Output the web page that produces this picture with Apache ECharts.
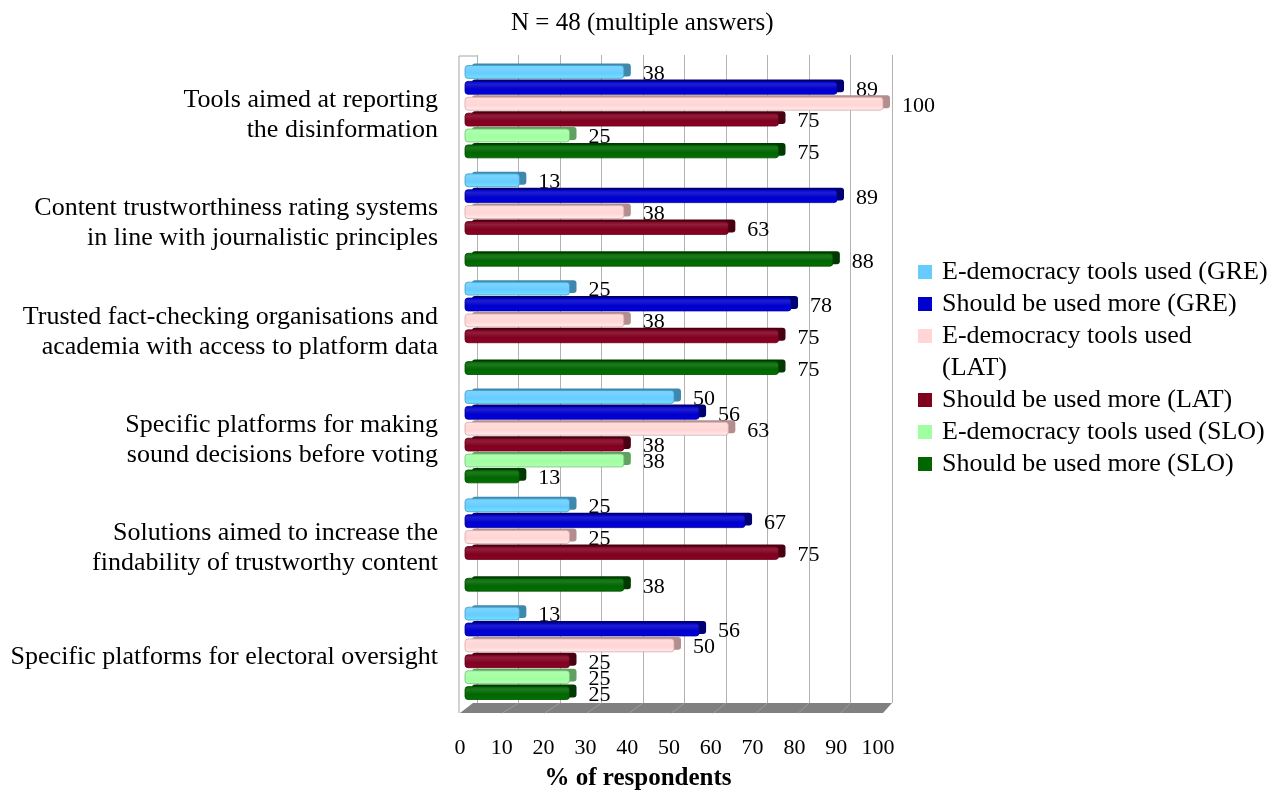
<!DOCTYPE html>
<html>
<head>
<meta charset="utf-8">
<script src="https://cdn.jsdelivr.net/npm/echarts@6/dist/echarts.min.js"></script>
<style>
  html, body { margin: 0; padding: 0; background: #ffffff; }
  #chart { width: 1275px; height: 791px; }
</style>
</head>
<body>
<div id="chart"></div>
<script>
// ---- data ----------------------------------------------------------------
const categories = [
  'Tools aimed at reporting\nthe disinformation',
  'Content trustworthiness rating systems\nin line with journalistic principles',
  'Trusted fact-checking organisations and\nacademia with access to platform data',
  'Specific platforms for making\nsound decisions before voting',
  'Solutions aimed to increase the\nfindability of trustworthy content',
  'Specific platforms for electoral oversight'
];

const greUsed = [38, 13, 25, 50, 25, 13];
const greMore = [89, 89, 78, 56, 67, 56];
const latUsed = [100, 38, 38, 63, 25, 50];
const latMore = [75, 63, 75, 38, 75, 25];
const sloUsed = [25, null, null, 38, null, 25];
const sloMore = [75, 88, 75, 13, 38, 25];

const seriesNames = [
  'E-democracy tools used (GRE)',
  'Should be used more (GRE)',
  'E-democracy tools used (LAT)',
  'Should be used more (LAT)',
  'E-democracy tools used (SLO)',
  'Should be used more (SLO)'
];
// legend text as it is wrapped in the key
const legendLabels = [
  'E-democracy tools used (GRE)',
  'Should be used more (GRE)',
  'E-democracy tools used\n(LAT)',
  'Should be used more (LAT)',
  'E-democracy tools used (SLO)',
  'Should be used more (SLO)'
];

const axisMin = 0;
const axisMax = 100;
const axisStep = 10;

const titleText = 'N = 48 (multiple answers)';
const axisTitle = '% of respondents';

// ---- styling ---------------------------------------------------------------
const seriesValues = [greUsed, greMore, latUsed, latMore, sloUsed, sloMore];
const palette = [
  { base: '#66CCFF', side: '#3F88AD', edge: '#4A9CC4' },
  { base: '#0000CC', side: '#000070', edge: '#000090' },
  { base: '#FFD5D5', side: '#B48E8E', edge: '#D4A8A8' },
  { base: '#800020', side: '#480012', edge: '#5C0018' },
  { base: '#A0FFA0', side: '#60A060', edge: '#78C078' },
  { base: '#006600', side: '#003A00', edge: '#004A00' }
];

const SERIF = '"Liberation Serif", "Times New Roman", serif';
const FRONT = { left: 465, top: 57, width: 418, height: 650 };   // bar plane
const BACK = { left: 477, top: 55, width: 415, height: 648 };    // back wall
const GROUP_GAP = 0.12;   // share of each category band left empty
const DX = 7, DY = 2;     // bar depth offset

const lift = echarts.color.lift;

function barRenderer(k) {
  const pal = palette[k];
  const n = seriesValues.length;
  return function (params, api) {
    const cat = api.value(0);
    const val = api.value(1);
    const p0 = api.coord([0, cat]);
    const p1 = api.coord([val, cat]);
    const band = api.size([0, 1])[1];
    const groupH = band * (1 - GROUP_GAP);
    const slot = groupH / n;
    const top = p0[1] - groupH / 2 + slot * k;
    const fh = slot - 1 - DY;
    const fy = top + DY;
    const x0 = p0[0], x1 = p1[0];
    return {
      type: 'group',
      children: [
        { // depth (top + end cap)
          type: 'rect',
          shape: { x: x0 + DX, y: fy - DY, width: x1 - x0, height: fh, r: 3 },
          style: { fill: pal.side }
        },
        { // front face
          type: 'rect',
          shape: { x: x0, y: fy, width: x1 - x0, height: fh, r: 3 },
          style: {
            fill: {
              type: 'linear', x: 0, y: 0, x2: 0, y2: 1,
              colorStops: [
                { offset: 0, color: lift(pal.base, -0.05) },
                { offset: 0.25, color: lift(pal.base, 0.12) },
                { offset: 0.6, color: pal.base },
                { offset: 1, color: lift(pal.base, -0.12) }
              ]
            },
            stroke: pal.edge,
            lineWidth: 0.8
          }
        },
        { // value label
          type: 'text',
          x: x1 + DX + 12,
          y: fy + fh / 2 + 2,
          style: {
            text: String(val),
            fill: '#000000',
            font: '22px ' + SERIF,
            align: 'left',
            verticalAlign: 'middle'
          }
        }
      ]
    };
  };
}

const series = seriesValues.map(function (vals, k) {
  return {
    type: 'custom',
    name: seriesNames[k],
    xAxisIndex: 0,
    yAxisIndex: 0,
    encode: { x: 1, y: 0 },
    itemStyle: { color: palette[k].base },
    renderItem: barRenderer(k),
    data: vals.map(function (v, i) { return [i, v]; }).filter(function (d) { return d[1] != null; })
  };
});

// ---- frame decorations (side wall, floor) and key --------------------------
const graphics = [];
const floorBackL = 473, floorBackR = BACK.left + BACK.width;
const floorFrontL = 460, floorFrontR = 883;
const floorTop = BACK.top + BACK.height, floorBottom = 713;

graphics.push({
  type: 'polyline',
  shape: { points: [[459, floorBottom], [459, 56], [BACK.left, 56]] },
  style: { stroke: '#a6a6a6', lineWidth: 1, fill: null }
});
graphics.push({
  type: 'polygon',
  shape: { points: [[floorBackL, floorTop], [floorBackR, floorTop], [floorFrontR, floorBottom], [floorFrontL, floorBottom]] },
  style: { fill: '#808080' }
});
const steps = (axisMax - axisMin) / axisStep;
for (let i = 1; i < steps; i++) {
  const bx = BACK.left + BACK.width * i / steps;
  const fx = floorFrontL + (floorFrontR - floorFrontL) * i / steps;
  graphics.push({
    type: 'line',
    shape: { x1: bx, y1: floorTop, x2: fx, y2: floorBottom },
    style: { stroke: '#9c9c9c', lineWidth: 1 }
  });
}

// key
let keyY = 272;
legendLabels.forEach(function (label, k) {
  const lines = label.split('\n').length;
  graphics.push({
    type: 'rect',
    shape: { x: 918, y: keyY - 7, width: 14, height: 14 },
    style: { fill: palette[k].base }
  });
  graphics.push({
    type: 'text',
    x: 942,
    y: keyY - 16,
    style: {
      text: label,
      fill: '#000000',
      font: '26px ' + SERIF,
      lineHeight: 32,
      align: 'left',
      verticalAlign: 'top'
    }
  });
  keyY += 32 * lines;
});

// ---- chart -----------------------------------------------------------------
const chart = echarts.init(document.getElementById('chart'), null, { renderer: 'canvas' });
chart.setOption({
  backgroundColor: '#ffffff',
  animation: false,
  title: {
    text: titleText,
    left: 506,
    top: 6,
    textStyle: { fontFamily: SERIF, fontSize: 25, fontWeight: 'normal', color: '#000000' }
  },
  grid: [
    { left: FRONT.left, top: FRONT.top, width: FRONT.width, height: FRONT.height, outerBoundsMode: 'none' },
    { left: BACK.left, top: BACK.top, width: BACK.width, height: BACK.height, outerBoundsMode: 'none' }
  ],
  xAxis: [
    {
      type: 'value', gridIndex: 0,
      min: axisMin, max: axisMax, interval: axisStep,
      axisLine: { show: false }, axisTick: { show: false }, splitLine: { show: false },
      axisLabel: {
        margin: 30, color: '#000000', fontFamily: SERIF, fontSize: 22,
        padding: [0, 10, 0, 0]
      },
      name: axisTitle,
      nameLocation: 'middle',
      nameGap: 59,
      nameTextStyle: {
        fontFamily: SERIF, fontSize: 25, fontWeight: 'bold', color: '#000000',
        padding: [0, 72, 0, 0]
      }
    },
    {
      type: 'value', gridIndex: 1,
      min: axisMin, max: axisMax, interval: axisStep,
      axisLine: { show: false }, axisTick: { show: false }, axisLabel: { show: false },
      splitLine: { show: true, lineStyle: { color: '#b3b3b3', width: 1 } }
    }
  ],
  yAxis: [
    {
      type: 'category', gridIndex: 0, inverse: true,
      data: categories,
      axisLine: { show: false }, axisTick: { show: false }, splitLine: { show: false },
      axisLabel: {
        margin: 27, color: '#000000', fontFamily: SERIF, fontSize: 26, lineHeight: 30,
        align: 'right',
        // a thin leading spacer line sets each label slightly below its band centre
        formatter: function (value) { return '{s| }\n' + value; },
        rich: { s: { fontSize: 2, lineHeight: 8 } }
      }
    },
    {
      type: 'category', gridIndex: 1, inverse: true,
      data: categories,
      show: false
    }
  ],
  graphic: graphics,
  series: series
});
</script>
</body>
</html>
